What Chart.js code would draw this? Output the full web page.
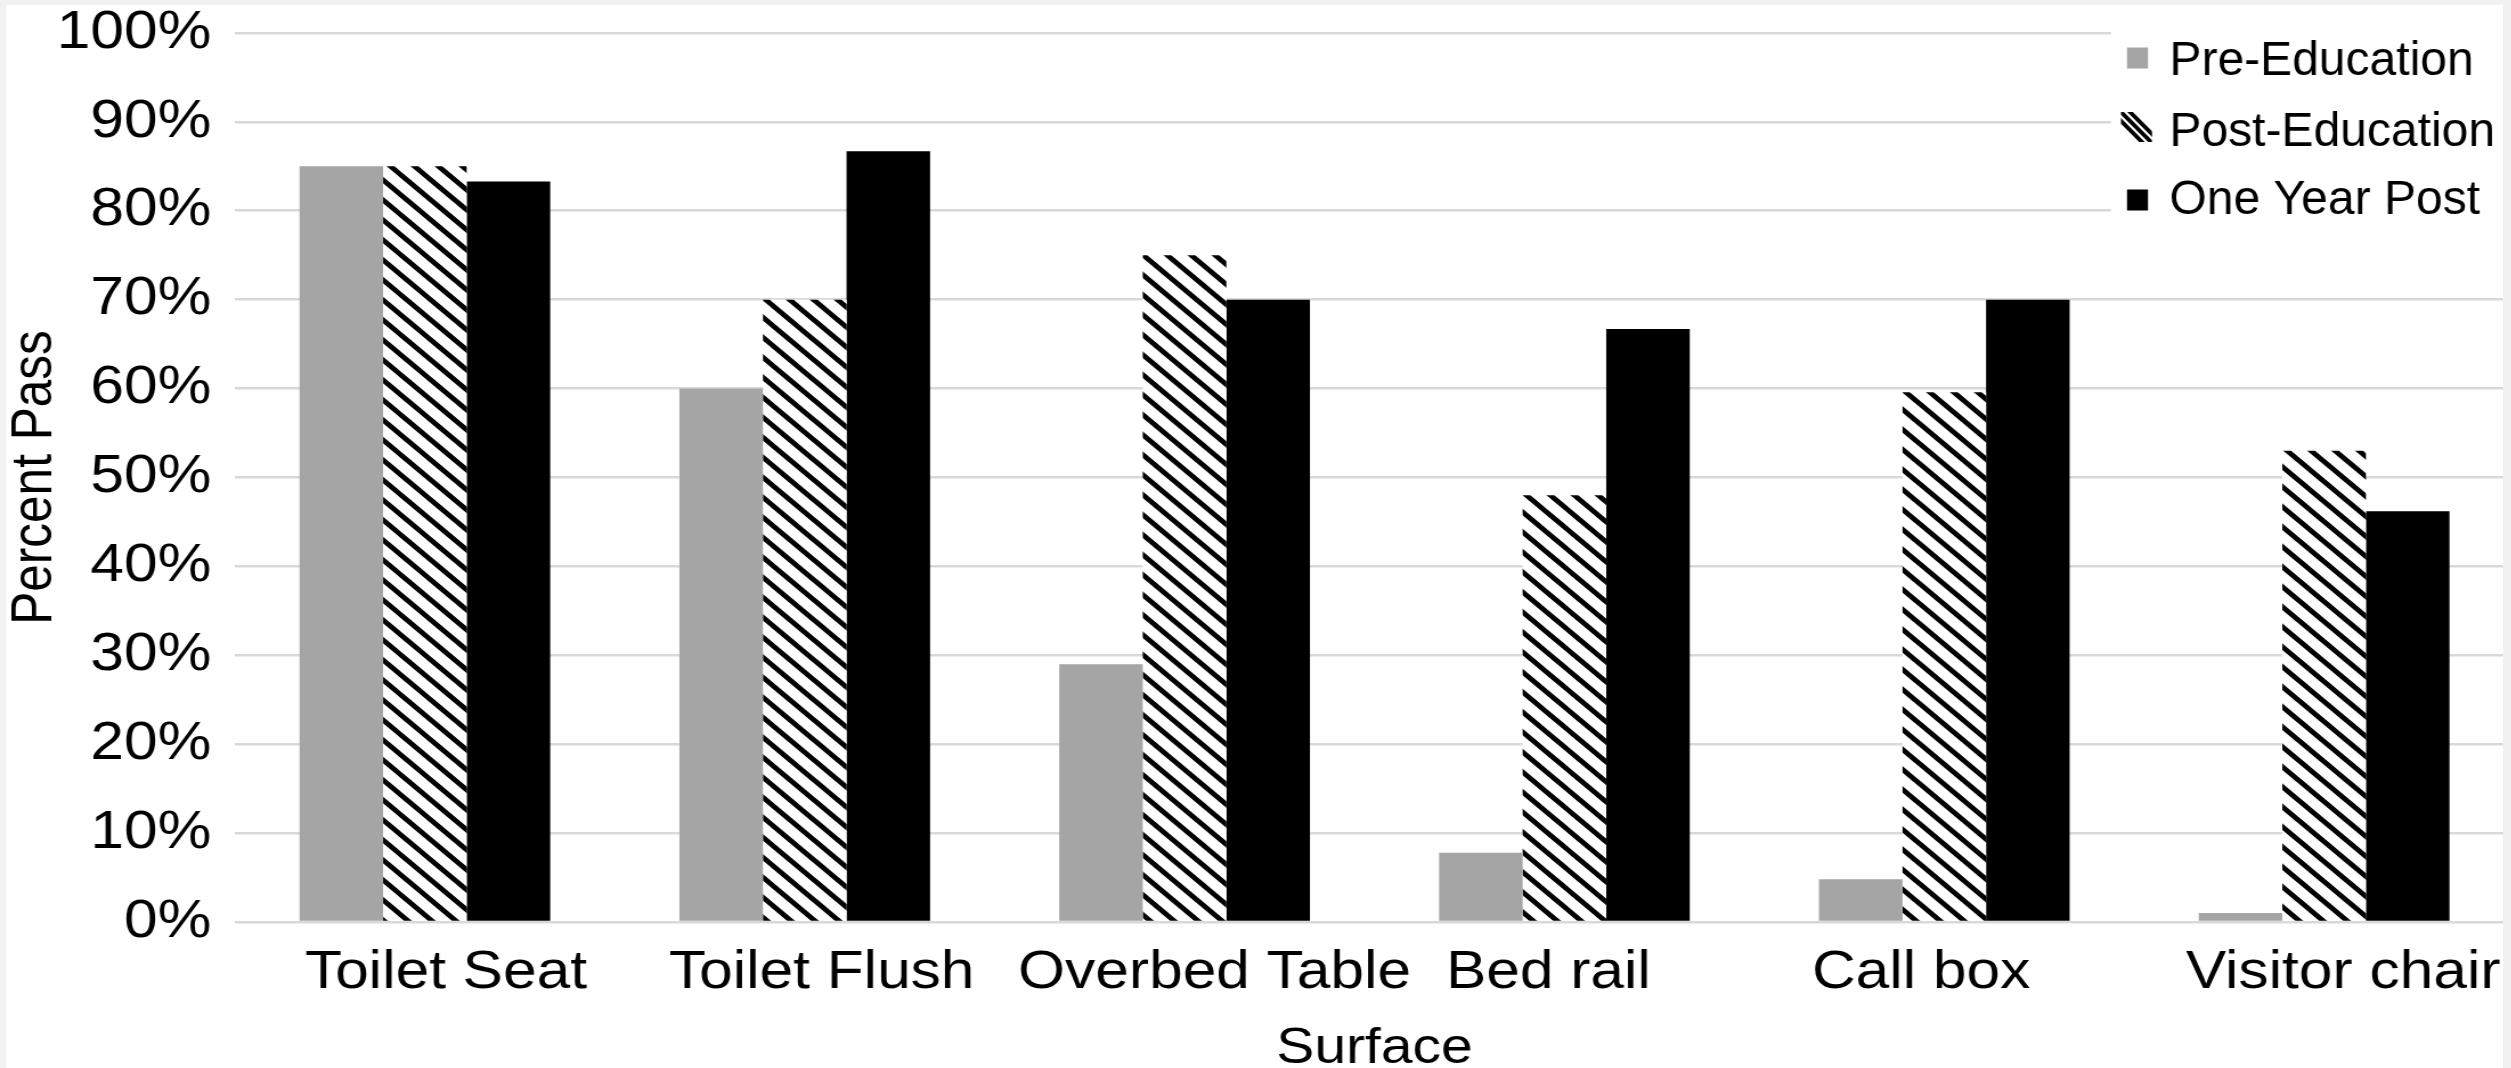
<!DOCTYPE html>
<html>
<head>
<meta charset="utf-8">
<title>Percent Pass by Surface</title>
<script src="https://cdn.jsdelivr.net/npm/chart.js@4/dist/chart.umd.min.js"></script>
<style>
  html, body { margin: 0; padding: 0; width: 2511px; height: 1068px; overflow: hidden; background: #f1f1f1; }
  #frame { position: absolute; left: 6px; top: 5px; width: 2497px; height: 1063px; overflow: hidden; background: #ffffff; }
  /* the chart is laid out on a narrower canvas and widened horizontally */
  #chart { position: absolute; left: -6px; top: -5px; transform-origin: 0 0; transform: scaleX(1.14); }
</style>
</head>
<body>
<div id="frame"><canvas id="chart" width="2210" height="1068"></canvas></div>
<script>
// ---- data ----
const surfaces = ['Toilet Seat', 'Toilet Flush', 'Overbed Table', 'Bed rail', 'Call box', 'Visitor chair'];
const seriesNames = ['Pre-Education', 'Post-Education', 'One Year Post'];
const preEducation = [85, 60, 29, 7.8, 4.8, 1];
const postEducation = [85, 70, 75, 48, 59.6, 53];
const oneYearPost = [83.3, 86.7, 70, 66.7, 70, 46.2];
const percentTicks = [0, 10, 20, 30, 40, 50, 60, 70, 80, 90, 100];

// ---- layout / style ----
const STRETCH = 1.14;
const FONT = "'Liberation Sans', Arial, sans-serif";
const GREY = '#a5a5a5';
const BLACK = '#000000';
const GRID = '#d9d9d9';
// horizontal fine-tuning of each category label (screen px)
const labelNudge = [21, 17, 30, -16, -23, 19];
// legend panel, in screen px
const legendLayout = {
  panel: [2111, 6, 420, 239],
  swatchX: 2127,
  swatchSize: 21,
  centers: [58, 127, 200],
  textX: 2169.5,
  baselines: [75, 146, 214],
  font: '48px ' + FONT
};

function diagonalHatch() {
  const w = 21, h = 20;
  const tile = document.createElement('canvas');
  tile.width = w; tile.height = h;
  const g = tile.getContext('2d');
  g.fillStyle = '#ffffff';
  g.fillRect(0, 0, w, h);
  g.strokeStyle = '#000000';
  g.lineWidth = 4.8;
  for (let k = -2; k <= 2; k++) {
    g.beginPath();
    g.moveTo(-w, -h + k * h);
    g.lineTo(2 * w, 2 * h + k * h);
    g.stroke();
  }
  return g.createPattern(tile, 'repeat');
}

const labelNudgePlugin = {
  id: 'labelNudge',
  beforeDraw(chart) {
    const items = chart.scales.x.getLabelItems();
    items.forEach((item, i) => {
      if (item._nudged) return;
      item.options.translation[0] += (labelNudge[i] || 0) / STRETCH;
      item._nudged = true;
    });
  }
};

const legendPanel = {
  id: 'legendPanel',
  afterDraw(chart) {
    const ctx = chart.ctx;
    const L = legendLayout;
    ctx.save();
    ctx.scale(1 / STRETCH, 1); // draw the legend in screen proportions
    ctx.fillStyle = '#ffffff';
    ctx.fillRect(L.panel[0], L.panel[1], L.panel[2], L.panel[3]);
    chart.data.datasets.forEach((ds, i) => {
      const cy = L.centers[i];
      if (typeof ds.backgroundColor === 'string') {
        ctx.fillStyle = ds.backgroundColor;
        ctx.fillRect(L.swatchX, cy - L.swatchSize / 2, L.swatchSize, L.swatchSize);
      } else {
        const x0 = L.swatchX - 6, y0 = cy - 15, size = 31;
        ctx.save();
        ctx.beginPath();
        ctx.rect(x0, y0, size, size - 1);
        ctx.clip();
        ctx.strokeStyle = '#000000';
        ctx.lineWidth = 4;
        [-9, 0, 9].forEach(d => {
          ctx.beginPath();
          ctx.moveTo(x0 + d - 5, y0 - 5);
          ctx.lineTo(x0 + d + size + 5, y0 + size + 5);
          ctx.stroke();
        });
        ctx.restore();
      }
      ctx.fillStyle = '#000000';
      ctx.font = L.font;
      ctx.textAlign = 'left';
      ctx.textBaseline = 'alphabetic';
      ctx.fillText(ds.label, L.textX, L.baselines[i]);
    });
    ctx.restore();
  }
};

const ctx = document.getElementById('chart').getContext('2d');
new Chart(ctx, {
  type: 'bar',
  data: {
    labels: surfaces,
    datasets: [
      { label: seriesNames[0], data: preEducation, backgroundColor: GREY },
      { label: seriesNames[1], data: postEducation, backgroundColor: diagonalHatch() },
      { label: seriesNames[2], data: oneYearPost, backgroundColor: BLACK }
    ]
  },
  options: {
    responsive: false,
    animation: false,
    devicePixelRatio: 1,
    events: [],
    layout: { padding: { top: 33, right: 4.7, bottom: 0, left: 0 } },
    datasets: { bar: { categoryPercentage: 0.66, barPercentage: 1, borderWidth: 0 } },
    plugins: { legend: { display: false }, tooltip: { enabled: false } },
    scales: {
      x: {
        grid: { display: false, drawTicks: false },
        border: { display: false },
        ticks: { font: { family: FONT, size: 53 }, color: '#000000', padding: 20, maxRotation: 0, autoSkip: false },
        title: {
          display: true, text: 'Surface', color: '#000000',
          font: { family: FONT, size: 50, lineHeight: 1.2 },
          padding: { top: 0, bottom: -11.5 }
        },
        afterFit(scale) {
          scale.height = 146;
          scale.paddingLeft = 0;
          scale.paddingRight = 0;
        }
      },
      y: {
        min: 0,
        max: 100,
        grid: { color: GRID, lineWidth: 2.6, drawTicks: false },
        border: { display: false },
        afterBuildTicks(scale) {
          scale.ticks = percentTicks.map(v => ({ value: v }));
        },
        ticks: { callback: v => v + '%', font: { family: FONT, size: 53 }, color: '#000000', padding: 20.7 },
        title: {
          display: true, text: 'Percent Pass', color: '#000000',
          font: { family: FONT, size: 49.5, lineHeight: 1.2 },
          padding: { top: 1.7, bottom: 0 }
        },
        afterFit(scale) {
          scale.width = 206.1;
          scale.paddingTop = 0;
          scale.paddingBottom = 0;
        }
      }
    }
  },
  plugins: [labelNudgePlugin, legendPanel]
});
</script>
</body>
</html>
